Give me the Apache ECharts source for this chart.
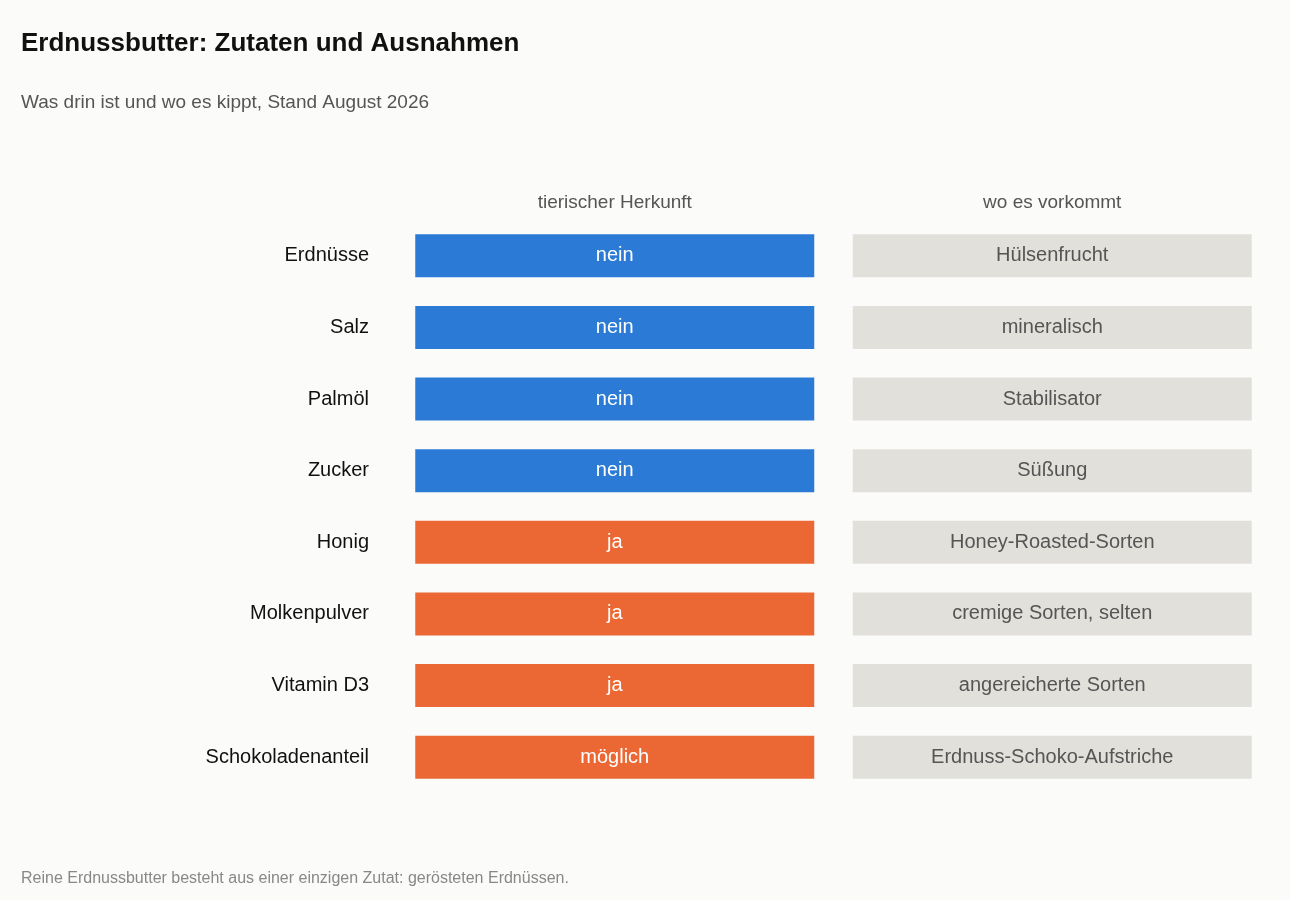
<!DOCTYPE html>
<html><head><meta charset="utf-8">
<script src="https://cdn.jsdelivr.net/npm/echarts@6/dist/echarts.min.js"></script>
<style>html,body{margin:0;background:#fbfbf9}#c{width:1290px;height:900px}</style>
</head><body><div id="c"></div>
<script>
const ingredients = ["Erdnüsse","Salz","Palmöl","Zucker","Honig","Molkenpulver","Vitamin D3","Schokoladenanteil"];
const columns = ["tierischer Herkunft","wo es vorkommt"];
const animalOrigin = ["nein","nein","nein","nein","ja","ja","ja","möglich"];
const whereFound = ["Hülsenfrucht","mineralisch","Stabilisator","Süßung","Honey-Roasted-Sorten","cremige Sorten, selten","angereicherte Sorten","Erdnuss-Schoko-Aufstriche"];

const data = [];
ingredients.forEach((n,i)=>{
  data.push([0,i,animalOrigin[i]]);
  data.push([1,i,whereFound[i]]);
});
const F = "'Liberation Sans', Arial, sans-serif";
const chart = echarts.init(document.getElementById('c'));
chart.setOption({
  backgroundColor:'#fbfbf9',
  title:[
    {text:'Erdnussbutter: Zutaten und Ausnahmen',left:16,top:26,textStyle:{fontFamily:F,fontSize:26,fontWeight:'bold',color:'#111'}},
    {text:'Was drin ist und wo es kippt, Stand August 2026',left:16,top:88,textStyle:{fontFamily:F,fontSize:19,fontWeight:'normal',color:'#555'}},
    {text:'Reine Erdnussbutter besteht aus einer einzigen Zutat: gerösteten Erdnüssen.',left:16,top:866,textStyle:{fontFamily:F,fontSize:16,fontWeight:'normal',color:'#888'}}
  ],
  grid:{left:396,right:19,top:220,bottom:107},
  xAxis:{type:'category',data:columns,position:'top',axisLine:{show:false},axisTick:{show:false},
    axisLabel:{margin:8,fontFamily:F,fontSize:19,color:'#555'}},
  yAxis:{type:'category',data:ingredients,inverse:true,axisLine:{show:false},axisTick:{show:false},
    axisLabel:{margin:27,fontFamily:F,fontSize:20,color:'#111'}},
  series:[{type:'custom',data:data,
    renderItem:(params,api)=>{
      const c=api.value(0), r=api.value(1);
      const p=api.coord([c,r]);
      const txt=data[params.dataIndex][2];
      let fill='#e2e0da', tc='#555';
      if(c===0){ fill = txt==='nein' ? '#2a7ad6' : '#eb6835'; tc='#fff'; }
      return {type:'rect',shape:{x:p[0]-199.5,y:p[1]-21.5,width:399,height:43},
        style:{fill:fill,text:txt,textFill:tc,fontSize:20,fontFamily:F,textPosition:'inside'}};
    }}]
});
</script></body></html>
